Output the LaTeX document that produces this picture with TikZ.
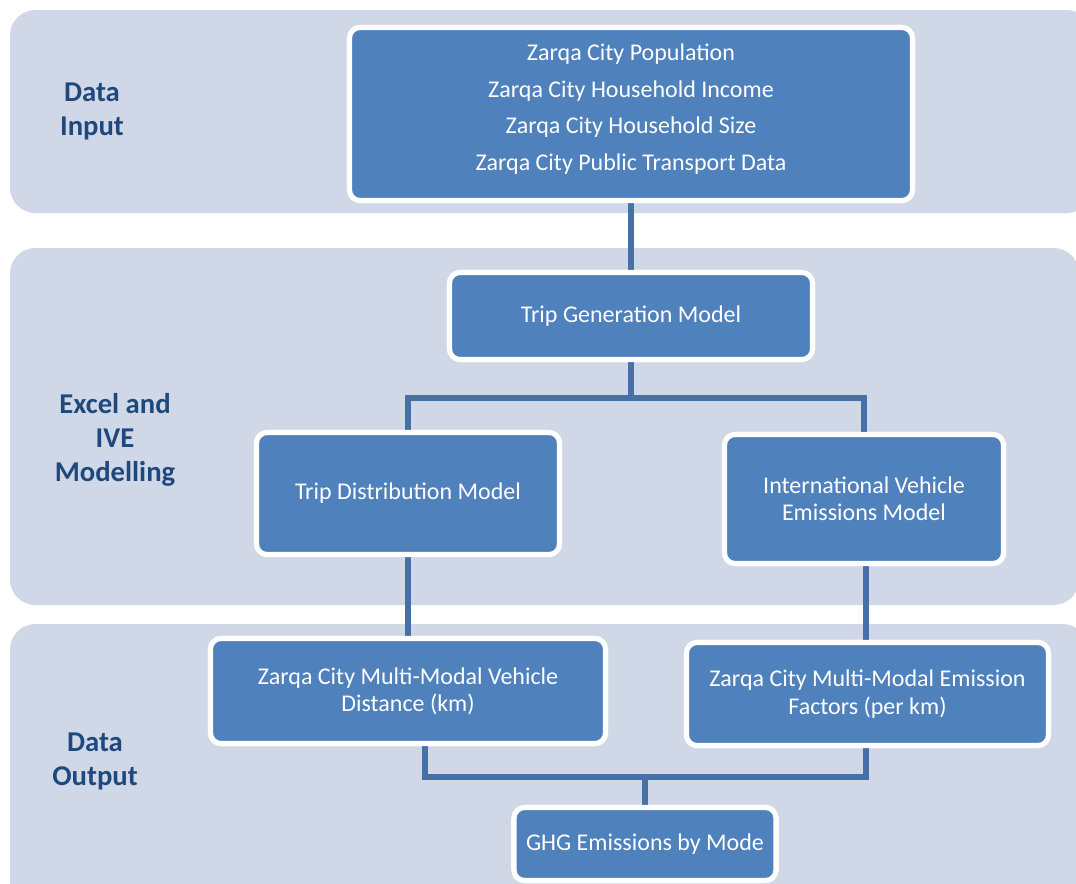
\documentclass[tikz,border=0pt]{standalone}
\usepackage{fontspec}
\setmainfont{Carlito}
\definecolor{bandc}{HTML}{D0D8E8}
\definecolor{boxc}{HTML}{4F81BD}
\definecolor{connc}{HTML}{4670A6}
\definecolor{labc}{HTML}{1F497D}
\begin{document}
\begin{tikzpicture}[x=0.75pt,y=-0.75pt,
  band/.style={fill=bandc, draw=none, rounded corners=19pt},
  box/.style={draw=white, fill=boxc, line width=3.8pt, rounded corners=8pt,
    text=white, align=center, inner sep=0pt, font=\fontsize{18}{20.5}\selectfont},
  boxtext/.style={text=white, align=center, inner sep=0pt, font=\fontsize{18}{20.5}\selectfont},
  conn/.style={draw=connc, line width=5.2pt},
  lab/.style={text=labc, align=center, font=\bfseries\fontsize{21.5}{25.5}\selectfont}]
\useasboundingbox (0,0) rectangle (1076,883);
\clip (0,0) rectangle (1076,883);
% bands
\fill[band] (10,10) rectangle (1092,213);
\fill[band] (10,248) rectangle (1079,605);
\fill[band] (10,624) rectangle (1088,920);
% labels
\node[lab] (l1) at (92,111) {Data\\Input};
\node[lab] (l2) at (115,440) {Excel and\\IVE\\Modelling};
\node[lab] (l3) at (95,761) {Data\\Output};
% coordinates
\coordinate (bus1) at (631,398);
\coordinate (bL) at (425,777);
\coordinate (bR) at (866,777);
\coordinate (bM) at (645,777);
% boxes (positions)
\path node[box, minimum width={563*0.75pt}, minimum height={173*0.75pt}] (inp) at (631,114) {}
      node[box, minimum width={363*0.75pt}, minimum height={87*0.75pt}] (gen) at (631,316) {}
      node[box, minimum width={303*0.75pt}, minimum height={122*0.75pt}] (dist) at (408,493.5) {}
      node[box, minimum width={279*0.75pt}, minimum height={129*0.75pt}] (ive) at (864,499) {}
      node[box, minimum width={395*0.75pt}, minimum height={105*0.75pt}] (dista) at (408,691) {}
      node[box, minimum width={362*0.75pt}, minimum height={103*0.75pt}] (fac) at (867.5,694) {}
      node[box, minimum width={262*0.75pt}, minimum height={73*0.75pt}] (ghg) at (645,844) {};
% connectors
\draw[conn] (inp.south) -- (gen.north);
\draw[conn] (gen.south) -- (bus1);
\draw[conn] (dist.north) |- (bus1) -| (ive.north);
\draw[conn] (dist.south) -- (dista.north);
\draw[conn] (bR |- ive.south) -- (bR |- fac.north);
\draw[conn] (bL |- dista.south) -- (bL) -- (bR) -- (bR |- fac.south);
\draw[conn] (bM) -- (ghg.north);
% boxes on top with text
\node[box, minimum width={563*0.75pt}, minimum height={173*0.75pt}] (inpb) at (inp) {};
\node[boxtext] (inpt) at (631,109) {Zarqa City Population\\[6.8pt] Zarqa City Household Income\\[6.8pt] Zarqa City Household Size\\[6.8pt] Zarqa City Public Transport Data};
\node[box, minimum width={363*0.75pt}, minimum height={87*0.75pt}] at (gen) {Trip Generation Model};
\node[box, minimum width={303*0.75pt}, minimum height={122*0.75pt}] at (dist) {Trip Distribution Model};
\node[box, minimum width={279*0.75pt}, minimum height={129*0.75pt}] at (ive) {International Vehicle\\Emissions Model};
\node[box, minimum width={395*0.75pt}, minimum height={105*0.75pt}] at (dista) {Zarqa City Multi-Modal Vehicle\\Distance (km)};
\node[box, minimum width={362*0.75pt}, minimum height={103*0.75pt}] at (fac) {Zarqa City Multi-Modal Emission\\Factors (per km)};
\node[box, minimum width={262*0.75pt}, minimum height={73*0.75pt}] at (ghg) {GHG Emissions by Mode};
\end{tikzpicture}
\end{document}
